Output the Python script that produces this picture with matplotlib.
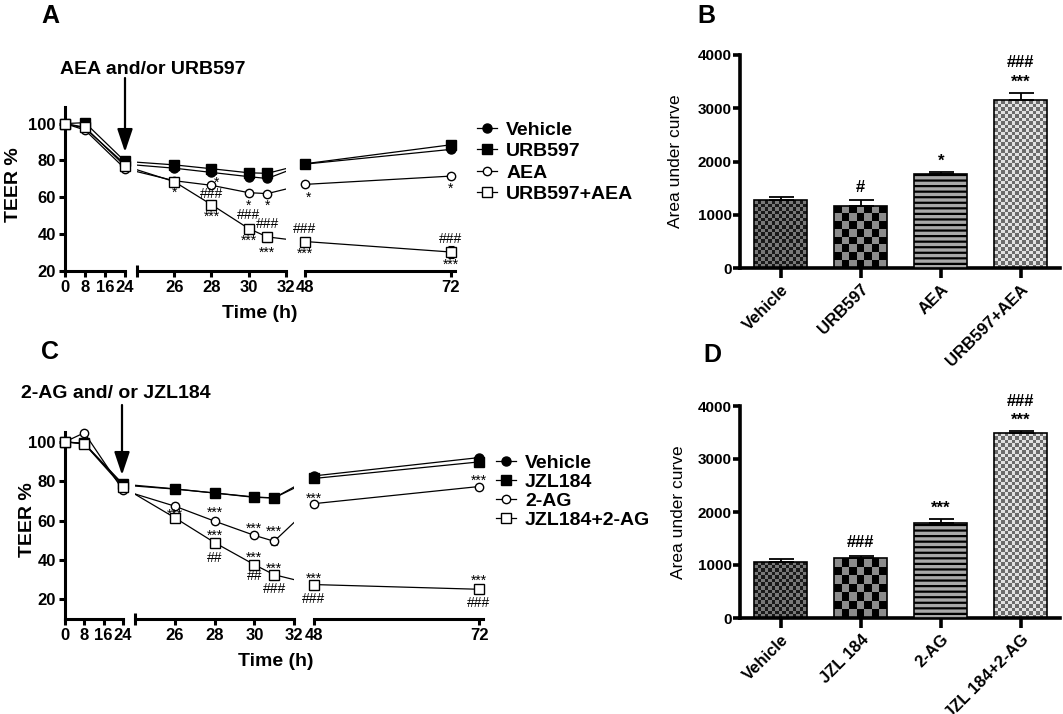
import numpy as np
import matplotlib
matplotlib.use('Agg')
import matplotlib.pyplot as plt
from matplotlib.lines import Line2D
from matplotlib.patches import FancyArrowPatch

plt.rcParams['font.family'] = ['Liberation Sans', 'DejaVu Sans']
plt.rcParams['font.weight'] = 'bold'
plt.rcParams['hatch.linewidth'] = 1.6

W, H = 1063, 714

# ---------------- data ----------------
time_h = np.array([0, 8, 24, 26, 28, 30, 31, 48, 72])

# panel A: TEER % (AEA and/or URB597)
a_vehicle = [100, 97.5, 78, 75.8, 73.5, 71.2, 70.2, 78, 86]
a_urb597 = [100, 100.5, 79.5, 77.6, 75.5, 73.3, 73, 78.2, 88.5]
a_aea = [100, 96.5, 75.5, 69, 66.5, 62.5, 62, 67, 71.5]
a_combo = [100, 98, 77, 68.5, 56, 43, 38.5, 36, 30.3]
a_vehicle_err = [0, 1, 1, 1, 1, 1, 1, 1, 1.5]
a_urb597_err = [0, 1, 1, 1, 1, 1, 1, 1, 1.5]
a_aea_err = [0, 1, 1, 1, 1, 1, 1, 1, 1]
a_combo_err = [0, 1, 1, 1.5, 2, 2, 2.5, 2, 3]

# panel C: TEER % (2-AG and/or JZL184)
c_vehicle = [100, 99, 78, 76, 74, 72, 71.5, 82.7, 92]
c_jzl184 = [100, 99.2, 78.5, 76.1, 74, 71.8, 71.5, 81.4, 89.8]
c_2ag = [100, 104.6, 75.4, 67.3, 59.7, 52.5, 49.5, 68.6, 77.3]
c_combo = [100, 99, 77, 61.4, 48.8, 37.6, 32.5, 27.5, 25.1]
c_vehicle_err = [0, 1, 1, 1, 1, 1, 1, 1, 1]
c_jzl184_err = [0, 1, 1, 1, 1, 1, 1, 1, 1]
c_2ag_err = [0, 1, 1, 1.5, 1.5, 1.5, 2, 1.5, 1.5]
c_combo_err = [0, 1, 1, 1.5, 1.5, 1.5, 1.5, 1.5, 1.5]

# significance marks on the time courses: (series, time, text, dx px, dy px)
a_notes = [
    ('AEA', 26, '*', 0, -12), ('AEA', 28, '*', 5, 3), ('AEA', 30, '*', 0, -13),
    ('AEA', 31, '*', 0, -12), ('AEA', 48, '*', 4, -13), ('AEA', 72, '*', 0, -13),
    ('URB597+AEA', 28, '###', 0, 11), ('URB597+AEA', 28, '***', 0, -12),
    ('URB597+AEA', 30, '###', 0, 14), ('URB597+AEA', 30, '***', 0, -12),
    ('URB597+AEA', 31, '###', 0, 13), ('URB597+AEA', 31, '***', 0, -16),
    ('URB597+AEA', 48, '###', 0, 13), ('URB597+AEA', 48, '***', 0, -12),
    ('URB597+AEA', 72, '###', 0, 13), ('URB597+AEA', 72, '***', 0, -13),
]
c_notes = [
    ('2-AG', 26, '*', 0, 12), ('JZL184+2-AG', 26, '***', 0, 3),
    ('2-AG', 28, '***', 0, 8), ('JZL184+2-AG', 28, '***', 0, 7),
    ('JZL184+2-AG', 28, '##', 0, -15),
    ('2-AG', 30, '***', 0, 7), ('JZL184+2-AG', 30, '***', 0, 7),
    ('JZL184+2-AG', 30, '##', 0, -11),
    ('2-AG', 31, '***', 0, 9), ('JZL184+2-AG', 31, '***', 0, 6),
    ('JZL184+2-AG', 31, '###', 0, -14),
    ('2-AG', 48, '***', 0, 5), ('2-AG', 72, '***', 0, 6),
    ('JZL184+2-AG', 48, '***', 0, 6), ('JZL184+2-AG', 48, '###', 0, -14),
    ('JZL184+2-AG', 72, '***', 0, 8), ('JZL184+2-AG', 72, '###', 0, -14),
]

# panel B: area under curve
b_groups = ['Vehicle', 'URB597', 'AEA', 'URB597+AEA']
b_auc = [1275, 1170, 1760, 3150]
b_sem = [58, 105, 37, 138]
b_stars = ['', '', '*', '***']
b_hashes = ['', '#', '', '###']

# panel D: area under curve
d_groups = ['Vehicle', 'JZL 184', '2-AG', 'JZL 184+2-AG']
d_auc = [1062, 1126, 1798, 3485]
d_sem = [45, 50, 70, 43]
d_stars = ['', '', '***', '***']
d_hashes = ['', '###', '', '###']


# ---------------- helpers ----------------
def fx(px):
    return px / W


def fy(py):
    return 1 - py / H


def box(l, t, r, b):
    return [l / W, 1 - b / H, (r - l) / W, (b - t) / H]


def broken_scale(T, S):
    # piecewise linear time -> pixel map, so lines cross the breaks like GraphPad
    T = np.asarray(T, float)
    S = np.asarray(S, float)
    r0 = (S[1] - S[0]) / (T[1] - T[0])
    r1 = (S[-1] - S[-2]) / (T[-1] - T[-2])
    Te = np.concatenate([[T[0] - 1000], T, [T[-1] + 1000]])
    Se = np.concatenate([[S[0] - 1000 * r0], S, [S[-1] + 1000 * r1]])
    return (lambda t: np.interp(t, Te, Se)), (lambda s: np.interp(s, Se, Te))


fig = plt.figure(figsize=(W / 100, H / 100), dpi=100)

LW = 2.2


def teer_panel(T, S, segs, ticks, caps, top, bottom, ylim, series, notes):
    fwd, inv = broken_scale(T, S)
    lookup = {s[5]: np.asarray(s[0], float) for s in series}
    axes = []
    for i, (lo, hi) in enumerate(segs):
        ax = fig.add_axes(box(fwd(lo), top, fwd(hi), bottom))
        ax.set_xscale('function', functions=(fwd, inv))
        ax.set_xlim(lo, hi)
        ax.set_ylim(*ylim)
        ax.patch.set_visible(False)
        for sp in ['top', 'right']:
            ax.spines[sp].set_visible(False)
        ax.spines['bottom'].set_linewidth(LW)
        if i == 0:
            ax.spines['left'].set_linewidth(LW)
            ax.set_yticks([20, 40, 60, 80, 100])
        else:
            ax.spines['left'].set_visible(False)
            ax.tick_params(axis='y', left=False, labelleft=False)
        ax.set_xticks(ticks[i], [str(int(round(t))) for t in ticks[i]])
        ax.set_xticks(caps[i], minor=True)
        ax.tick_params(axis='both', which='major', direction='out', length=4.5,
                       width=LW, labelsize=12, pad=2)
        ax.tick_params(axis='x', which='minor', direction='inout', length=8, width=LW)

        inside = (time_h >= lo) & (time_h <= hi)
        for vals, errs, m, ms, mfc, lab in series:
            v = np.asarray(vals, float)
            e = np.asarray(errs, float)
            ax.plot(time_h, v, color='k', lw=0.9, zorder=2)
            ax.errorbar(time_h[inside], v[inside], yerr=e[inside], fmt='none', ecolor='k',
                        elinewidth=0.8, capsize=2.5, capthick=0.8, clip_on=False, zorder=3)
            ax.plot(time_h[inside], v[inside], ls='none', marker=m, ms=ms, mfc=mfc,
                    mec='k', mew=1, clip_on=False, zorder=4)
        axes.append(ax)

    for key, t, txt, dx, dy in notes:
        i = [k for k, (lo, hi) in enumerate(segs) if lo <= t <= hi][0]
        v = lookup[key][list(time_h).index(t)]
        axes[i].annotate(txt, (t, v), xytext=(dx, dy), textcoords='offset pixels',
                         ha='center', va='center', fontsize=10, fontweight='normal',
                         annotation_clip=False, zorder=6)
    return axes


def legend_for(series, left, top, spacing):
    handles = [Line2D([], [], color='k', lw=0.9, marker=m, ms=ms, mfc=mfc, mec='k', mew=1)
               for vals, errs, m, ms, mfc, lab in series]
    fig.legend(handles, [s[5] for s in series], loc='upper left',
               bbox_to_anchor=(fx(left), fy(top)), frameon=False, fontsize=14,
               handlelength=1.05, handletextpad=0.45, labelspacing=spacing,
               borderpad=0, borderaxespad=0)


def arrow(x, y0, y1):
    fig.add_artist(FancyArrowPatch((fx(x), fy(y0)), (fx(x), fy(y1)), transform=fig.transFigure,
                                   arrowstyle='-|>,head_length=1.4,head_width=0.47',
                                   mutation_scale=10, lw=1.6, color='k',
                                   shrinkA=0, shrinkB=0))


def checker(ax, bar, cell, dark, light):
    x0, y0 = bar.get_x(), bar.get_y()
    w, h = bar.get_width(), bar.get_height()
    p0 = ax.transData.transform((x0, y0))
    p1 = ax.transData.transform((x0 + w, y0 + h))
    nx = max(1, int(round((p1[0] - p0[0]) / cell)))
    ny = max(1, int(round((p1[1] - p0[1]) / cell)))
    grid = np.add.outer(np.arange(ny), np.arange(nx)) % 2
    img = np.where(grid == 1, dark, light)
    im = ax.imshow(img, extent=(x0, x0 + w, y0, y0 + h), cmap='gray', vmin=0, vmax=1,
                   interpolation='nearest', aspect='auto', origin='lower', zorder=1)
    im.set_clip_path(bar)


def auc_panel(l, t, r, b, groups, auc, sem, stars, hashes, ylab_x):
    ax = fig.add_axes(box(l, t, r, b))
    x = np.arange(len(groups))
    ax.set_xlim(-0.51, 3.49)
    ax.set_ylim(0, 4000)
    bars = ax.bar(x, auc, width=0.66, facecolor='none', edgecolor='k', lw=1.2, zorder=3)
    checker(ax, bars[0], 3.5, 0.1, 0.47)
    checker(ax, bars[1], 8.0, 0.0, 0.55)
    bars[2].set_facecolor('0.66')
    bars[2].set_hatch('---')
    checker(ax, bars[3], 3.5, 0.42, 0.88)
    ax.errorbar(x, auc, yerr=[np.zeros(len(x)), sem], fmt='none', ecolor='k',
                elinewidth=1.3, capsize=9, capthick=1.3, zorder=4)
    for xi, v, e, s, hs in zip(x, auc, sem, stars, hashes):
        if s:
            ax.annotate(s, (xi, v + e), xytext=(0, 11), textcoords='offset pixels',
                        ha='center', va='center', fontsize=12, annotation_clip=False)
        if hs:
            ax.annotate(hs, (xi, v + e), xytext=(0, 30 if s else 13), textcoords='offset pixels',
                        ha='center', va='center', fontsize=12, annotation_clip=False)
    for sp in ['top', 'right']:
        ax.spines[sp].set_visible(False)
    for sp in ['left', 'bottom']:
        ax.spines[sp].set_linewidth(2.6)
    ax.set_yticks([0, 1000, 2000, 3000, 4000])
    ax.set_xticks(x, groups)
    ax.tick_params(axis='y', direction='out', length=5, width=2.6, labelsize=11, pad=1)
    ax.tick_params(axis='x', direction='out', length=7, width=2.6, labelsize=12, pad=3)
    plt.setp(ax.get_xticklabels(), rotation=45, ha='right', rotation_mode='anchor')
    ax.set_ylabel('Area under curve', fontsize=12.5)
    ax.yaxis.set_label_coords(ylab_x, 0.5)
    return ax


# ---------------- panel A ----------------
a_series = [
    (a_vehicle, a_vehicle_err, 'o', 6.5, 'k', 'Vehicle'),
    (a_urb597, a_urb597_err, 's', 6.5, 'k', 'URB597'),
    (a_aea, a_aea_err, 'o', 6, 'white', 'AEA'),
    (a_combo, a_combo_err, 's', 7, 'white', 'URB597+AEA'),
]
teer_panel([0, 24, 24.001, 32, 48, 72.66], [65, 125, 137, 286, 305, 455],
           [(0, 24), (24.001, 32), (48, 72.66)],
           [[0, 8, 16, 24], [26, 28, 30, 32], [48, 72]],
           [[24], [24.001, 32], [48]],
           107, 271, (20, 109), a_series, a_notes)
legend_for(a_series, 477, 121, 0.2)
fig.text(fx(13), fy(185), 'TEER %', rotation=90, ha='center', va='center', fontsize=14)
fig.text(fx(260), fy(313), 'Time (h)', ha='center', va='center', fontsize=14)
fig.text(fx(153), fy(70), 'AEA and/or URB597', ha='center', va='center', fontsize=14)
arrow(125, 78, 152)

# ---------------- panel C ----------------
c_series = [
    (c_vehicle, c_vehicle_err, 'o', 6.5, 'k', 'Vehicle'),
    (c_jzl184, c_jzl184_err, 's', 6.5, 'k', 'JZL184'),
    (c_2ag, c_2ag_err, 'o', 6, 'white', '2-AG'),
    (c_combo, c_combo_err, 's', 7, 'white', 'JZL184+2-AG'),
]
teer_panel([0, 24, 24.001, 32, 48, 72.58], [65, 123, 135.3, 294, 314, 483],
           [(0, 24), (24.001, 32), (48, 72.58)],
           [[0, 8, 16, 24], [26, 28, 30, 32], [48, 72]],
           [[24], [24.001, 32], [48]],
           432, 619, (10, 105), c_series, c_notes)
legend_for(c_series, 496, 454, 0.07)
fig.text(fx(28), fy(520), 'TEER %', rotation=90, ha='center', va='center', fontsize=14)
fig.text(fx(276), fy(662), 'Time (h)', ha='center', va='center', fontsize=14)
fig.text(fx(116), fy(393), '2-AG and/ or JZL184', ha='center', va='center', fontsize=14)
arrow(122, 405, 475)

# ---------------- panels B and D ----------------
auc_panel(740, 55, 1060, 268, b_groups, b_auc, b_sem, b_stars, b_hashes, -0.178)
auc_panel(740, 406, 1060, 618, d_groups, d_auc, d_sem, d_stars, d_hashes, -0.169)

# panel letters
for letter, px, py in [('A', 50, 16), ('B', 706, 16), ('C', 50, 352), ('D', 712, 355)]:
    fig.text(fx(px), fy(py), letter, ha='center', va='center', fontsize=18)

fig.savefig('out.png', dpi=100)
